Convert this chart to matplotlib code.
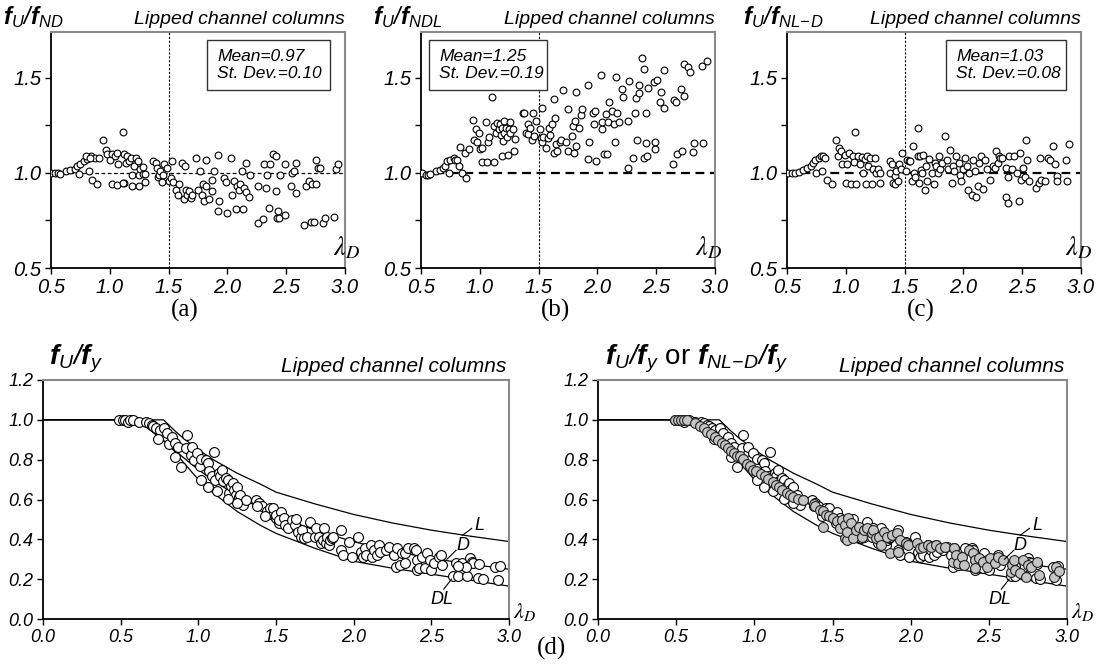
import numpy as np
import matplotlib
matplotlib.use('Agg')
import matplotlib.pyplot as plt
from matplotlib.patches import Rectangle

plt.rcParams['font.family'] = 'Liberation Sans'
plt.rcParams['font.style'] = 'italic'
plt.rcParams['mathtext.fontset'] = 'custom'
plt.rcParams['mathtext.it'] = 'Liberation Sans:italic'
plt.rcParams['mathtext.rm'] = 'Liberation Sans:italic'
plt.rcParams['mathtext.bf'] = 'Liberation Sans:bold:italic'

# (a) f_U / f_ND  vs lambda_D
pts_a = [(0.50,1.00),(0.53,1.00),(0.56,1.00),(0.58,0.995),(0.63,1.01),(0.66,1.015),(0.70,1.02),
         (0.72,1.035),(0.75,1.045),(0.78,1.06),(0.81,1.075),(0.84,1.09),(0.87,1.08),(0.80,1.09),
         (0.83,1.08),(0.74,0.995),(0.82,1.01),(0.85,0.965),(0.89,0.94),(0.91,1.08),(0.94,1.17),
         (0.97,1.12),(0.98,1.10),(1.00,1.07),(1.02,1.10),(1.04,1.09),(1.06,1.105),(1.07,1.045),
         (1.02,0.94),(1.06,0.935),(1.11,1.215),(1.12,1.10),(1.14,1.05),(1.15,1.09),(1.16,1.06),
         (1.18,1.08),(1.12,0.945),(1.19,0.99),(1.19,0.93),(1.21,1.035),(1.22,1.08),(1.24,1.06),
         (1.25,0.93),(1.25,0.99),(1.26,1.02),(1.28,0.995),(1.30,0.995),(1.30,0.95),(1.28,1.03),
         (1.11,0.945),(1.37,1.06),(1.39,1.05),(1.40,1.025),(1.41,0.98),(1.42,0.99),(1.43,1.01),
         (1.44,0.95),(1.45,0.99),(1.46,1.045),(1.49,1.025),(1.50,0.955),(1.52,0.975),(1.53,1.06),
         (1.54,0.95),(1.56,0.91),(1.58,0.885),(1.59,0.94),(1.61,1.05),(1.63,0.86),(1.64,1.035),
         (1.65,0.91),(1.66,0.885),(1.67,0.905),(1.69,0.87),(1.70,0.885),(1.73,1.08),(1.75,0.91),
         (1.77,1.01),(1.78,0.885),(1.79,0.94),(1.80,0.85),(1.82,1.065),(1.82,0.93),(1.84,0.86),
         (1.87,0.905),(1.87,0.965),(1.89,1.01),(1.92,1.095),(1.92,0.80),(1.93,0.85),(1.97,0.975),
         (1.99,0.95),(2.00,0.79),(2.03,1.08),(2.04,0.885),(2.06,0.955),(2.07,0.81),(2.08,0.93),
         (2.10,0.91),(2.11,0.94),(2.12,1.01),(2.13,0.81),(2.14,0.92),(2.16,0.90),(2.16,1.05),
         (2.18,0.875),(2.19,0.99),(2.26,0.93),(2.26,0.735),(2.30,0.76),(2.31,1.045),(2.33,0.92),
         (2.34,0.99),(2.35,0.815),(2.36,1.045),(2.39,1.10),(2.41,1.09),(2.41,0.905),(2.42,0.765),
         (2.44,0.765),(2.43,0.80),(2.45,0.99),(2.49,0.78),(2.49,1.045),(2.54,0.93),(2.55,1.00),
         (2.57,1.01),(2.58,0.895),(2.58,1.05),(2.65,0.725),(2.67,0.93),(2.69,0.955),(2.71,0.74),
         (2.72,0.94),(2.74,0.74),(2.75,0.94),(2.75,1.07),(2.77,1.025),(2.79,1.025),(2.81,0.735),
         (2.83,0.765),(2.91,0.77),(2.92,1.02),(2.94,1.045)]

# (b) f_U / f_NDL
pts_b = [(0.51,1.00),(0.54,0.99),(0.56,0.99),(0.58,0.995),(0.63,1.01),(0.66,1.015),(0.69,1.025),
         (0.70,1.035),(0.72,1.06),(0.75,1.07),(0.74,1.00),(0.78,1.08),(0.79,1.07),(0.81,1.07),
         (0.82,1.035),(0.83,1.135),(0.85,1.00),(0.88,0.975),(0.87,1.105),(0.91,1.125),(0.94,1.28),
         (0.95,1.175),(0.97,1.23),(0.98,1.16),(0.99,1.21),(1.00,1.125),(1.02,1.13),(1.02,1.055),
         (1.06,1.055),(1.05,1.265),(1.07,1.16),(1.08,1.19),(1.10,1.40),(1.12,1.055),(1.12,1.245),
         (1.14,1.21),(1.15,1.26),(1.16,1.23),(1.17,1.255),(1.18,1.20),(1.19,1.235),(1.20,1.165),
         (1.21,1.27),(1.21,1.21),(1.22,1.235),(1.23,1.19),(1.19,1.09),(1.24,1.095),(1.25,1.23),
         (1.26,1.265),(1.26,1.21),(1.28,1.23),(1.29,1.115),(1.30,1.18),(1.37,1.315),(1.38,1.315),
         (1.39,1.21),(1.41,1.255),(1.41,1.205),(1.43,1.235),(1.44,1.175),(1.45,1.315),(1.46,1.195),
         (1.48,1.27),(1.51,1.23),(1.52,1.185),(1.53,1.34),(1.53,1.16),(1.54,1.19),(1.56,1.13),
         (1.58,1.185),(1.59,1.235),(1.60,1.20),(1.61,1.255),(1.63,1.105),(1.63,1.39),(1.64,1.29),
         (1.65,1.15),(1.66,1.115),(1.68,1.16),(1.69,1.175),(1.71,1.435),(1.73,1.16),(1.75,1.335),
         (1.75,1.115),(1.78,1.195),(1.79,1.245),(1.80,1.105),(1.81,1.27),(1.82,1.425),(1.82,1.14),
         (1.84,1.235),(1.86,1.305),(1.87,1.335),(1.92,1.46),(1.92,1.075),(1.93,1.16),(1.96,1.315),
         (1.97,1.255),(1.98,1.325),(1.99,1.06),(2.03,1.515),(2.04,1.23),(2.04,1.265),(2.06,1.10),
         (2.07,1.31),(2.08,1.10),(2.09,1.265),(2.10,1.37),(2.12,1.325),(2.14,1.255),(2.15,1.16),
         (2.16,1.505),(2.17,1.315),(2.18,1.265),(2.21,1.44),(2.22,1.40),(2.26,1.025),(2.26,1.27),
         (2.27,1.48),(2.30,1.08),(2.32,1.315),(2.33,1.395),(2.34,1.17),(2.35,1.42),(2.35,1.46),
         (2.38,1.605),(2.40,1.545),(2.40,1.08),(2.41,1.155),(2.41,1.315),(2.42,1.09),(2.43,1.445),
         (2.48,1.475),(2.49,1.16),(2.49,1.125),(2.51,1.49),(2.53,1.37),(2.54,1.425),(2.57,1.34),
         (2.57,1.54),(2.64,1.045),(2.65,1.385),(2.67,1.37),(2.68,1.10),(2.71,1.44),(2.72,1.115),
         (2.74,1.405),(2.74,1.57),(2.77,1.555),(2.79,1.53),(2.81,1.11),(2.82,1.155),(2.89,1.56),
         (2.90,1.155),(2.93,1.59)]

# (c) f_U / f_NL-D
pts_c = [(0.51,1.00),(0.54,1.00),(0.57,1.00),(0.60,1.005),(0.64,1.015),(0.67,1.025),(0.70,1.035),
         (0.72,1.05),(0.74,1.065),(0.77,1.08),(0.79,1.09),(0.81,1.09),(0.82,1.08),(0.75,1.00),
         (0.80,1.01),(0.84,0.965),(0.88,0.94),(0.92,1.17),(0.93,1.09),(0.94,1.13),(0.96,1.115),
         (0.97,1.045),(0.99,1.095),(1.00,0.945),(1.01,1.045),(1.03,1.105),(1.04,0.94),(1.06,1.09),
         (1.07,1.055),(1.08,1.215),(1.09,0.94),(1.10,1.09),(1.12,1.045),(1.14,1.085),(1.15,1.00),
         (1.16,1.075),(1.17,0.94),(1.18,1.09),(1.19,1.035),(1.21,1.08),(1.22,0.94),(1.23,1.02),
         (1.25,1.08),(1.26,1.00),(1.27,1.02),(1.29,0.945),(1.29,1.00),(1.38,1.06),(1.38,1.00),
         (1.39,1.045),(1.40,0.945),(1.42,0.985),(1.42,0.94),(1.43,1.01),(1.44,0.955),(1.45,1.045),
         (1.47,1.02),(1.48,1.105),(1.51,1.01),(1.52,1.07),(1.54,1.06),(1.55,1.06),(1.56,0.955),
         (1.57,1.14),(1.58,1.00),(1.59,0.98),(1.61,1.235),(1.61,1.09),(1.62,0.945),(1.63,1.09),
         (1.64,1.015),(1.65,1.00),(1.66,1.095),(1.67,0.91),(1.68,1.035),(1.69,0.955),(1.71,1.075),
         (1.73,1.00),(1.75,0.94),(1.76,1.05),(1.77,1.035),(1.78,1.00),(1.79,1.09),(1.80,1.02),
         (1.82,1.05),(1.84,1.195),(1.86,1.07),(1.87,1.02),(1.89,1.12),(1.90,0.945),(1.91,1.035),
         (1.92,1.01),(1.94,1.09),(1.96,1.05),(1.97,0.99),(1.98,0.955),(2.00,1.02),(2.01,1.08),
         (2.03,1.035),(2.04,0.91),(2.05,1.00),(2.07,0.885),(2.08,1.07),(2.10,1.01),(2.11,0.875),
         (2.12,0.93),(2.13,1.05),(2.15,1.09),(2.17,0.915),(2.18,1.07),(2.20,1.02),(2.23,0.965),
         (2.25,1.035),(2.27,1.025),(2.28,1.115),(2.29,1.05),(2.30,1.09),(2.31,1.08),(2.33,1.08),
         (2.36,1.025),(2.36,0.875),(2.38,0.98),(2.38,0.84),(2.39,1.09),(2.41,1.02),(2.43,1.09),
         (2.46,1.00),(2.47,0.85),(2.48,1.105),(2.49,0.965),(2.51,1.025),(2.52,0.98),(2.53,1.175),
         (2.54,1.07),(2.56,0.955),(2.62,0.92),(2.64,0.945),(2.65,1.08),(2.66,0.965),(2.69,0.955),
         (2.72,1.08),(2.74,1.07),(2.76,1.14),(2.78,1.045),(2.80,0.985),(2.80,0.955),(2.87,1.07),
         (2.88,0.955),(2.90,1.15)]

# (d) f_U / f_y (tests)
pts_fy = [(0.49,1.00),(0.515,0.997),(0.53,1.00),(0.55,0.988),(0.56,0.997),(0.58,1.00),(0.62,0.99),
          (0.66,0.987),(0.68,0.983),(0.70,0.975),(0.71,0.967),(0.73,0.958),(0.75,0.95),(0.78,0.958),
          (0.80,0.933),(0.74,0.903),(0.81,0.88),(0.83,0.916),(0.85,0.883),(0.87,0.866),(0.93,0.925),
          (0.85,0.813),(0.89,0.762),(0.92,0.858),(0.95,0.824),(0.96,0.866),(0.97,0.796),(0.99,0.833),
          (1.01,0.766),(1.02,0.804),(1.05,0.80),(1.06,0.783),(1.07,0.741),(1.10,0.836),(1.09,0.716),
          (1.11,0.699),(1.13,0.732),(1.14,0.716),(1.15,0.749),(1.16,0.691),(1.18,0.707),(1.19,0.699),
          (1.20,0.632),(1.21,0.669),(1.22,0.682),(1.23,0.649),(1.24,0.624),(1.25,0.662),(1.26,0.615),
          (1.27,0.624),(1.29,0.573),(1.31,0.598),(1.25,0.582),(1.19,0.602),(1.12,0.645),(1.06,0.665),
          (1.02,0.699),(1.37,0.598),(1.39,0.582),(1.41,0.565),(1.44,0.54),(1.46,0.556),(1.48,0.523),
          (1.50,0.506),(1.52,0.481),(1.38,0.565),(1.43,0.515),(1.48,0.556),(1.50,0.522),(1.53,0.539),
          (1.52,0.497),(1.55,0.505),(1.56,0.472),(1.58,0.455),(1.60,0.497),(1.62,0.472),(1.63,0.50),
          (1.64,0.438),(1.66,0.413),(1.67,0.447),(1.68,0.405),(1.70,0.413),(1.72,0.489),(1.75,0.413),
          (1.76,0.455),(1.78,0.413),(1.79,0.38),(1.80,0.397),(1.81,0.455),(1.82,0.38),(1.83,0.413),
          (1.84,0.371),(1.85,0.397),(1.86,0.405),(1.87,0.413),(1.92,0.447),(1.92,0.346),(1.93,0.321),
          (1.97,0.388),(1.99,0.313),(2.03,0.413),(2.05,0.338),(2.06,0.313),(2.07,0.355),(2.08,0.321),
          (2.11,0.371),(2.12,0.313),(2.13,0.346),(2.15,0.321),(2.16,0.371),(2.17,0.338),(2.21,0.346),
          (2.23,0.363),(2.26,0.321),(2.27,0.263),(2.28,0.355),(2.30,0.271),(2.31,0.33),(2.33,0.33),
          (2.33,0.279),(2.35,0.355),(2.39,0.355),(2.40,0.346),(2.41,0.296),(2.41,0.246),(2.42,0.254),
          (2.44,0.313),(2.46,0.254),(2.47,0.33),(2.49,0.296),(2.50,0.246),(2.52,0.279),(2.55,0.313),
          (2.56,0.321),(2.57,0.271),(2.64,0.216),(2.66,0.279),(2.67,0.216),(2.69,0.271),(2.70,0.279),
          (2.73,0.216),(2.75,0.304),(2.76,0.288),(2.77,0.279),(2.80,0.204),(2.81,0.275),(2.83,0.20),
          (2.91,0.26),(2.93,0.195),(2.94,0.265),(2.72,0.262),(2.67,0.265)]

# (d) f_NL-D / f_y (predictions, grey)
pts_nld = [(0.49,1.00),(0.51,1.00),(0.53,1.00),(0.55,0.997),(0.57,1.00),(0.62,0.983),(0.65,0.97),
           (0.68,0.958),(0.70,0.941),(0.72,0.928),(0.75,0.916),(0.77,0.90),(0.79,0.886),(0.81,0.874),
           (0.83,0.858),(0.85,0.846),(0.87,0.832),(0.89,0.816),(0.91,0.816),(0.93,0.804),(0.95,0.777),
           (0.97,0.766),(0.99,0.749),(1.01,0.744),(1.04,0.727),(1.07,0.716),(1.09,0.704),(1.12,0.687),
           (1.14,0.674),(1.16,0.661),(1.18,0.649),(1.21,0.632),(1.23,0.624),(1.25,0.615),(1.28,0.603),
           (1.31,0.598),(1.38,0.577),(1.39,0.565),(1.42,0.548),(1.44,0.543),(1.44,0.464),(1.46,0.523),
           (1.48,0.515),(1.50,0.506),(1.53,0.49),(1.55,0.456),(1.58,0.406),(1.59,0.397),(1.56,0.497),
           (1.58,0.472),(1.59,0.438),(1.60,0.505),(1.62,0.48),(1.63,0.405),(1.65,0.447),(1.67,0.464),
           (1.69,0.413),(1.70,0.447),(1.72,0.455),(1.75,0.43),(1.76,0.447),(1.78,0.405),(1.80,0.413),
           (1.81,0.371),(1.83,0.438),(1.85,0.413),(1.87,0.333),(1.88,0.422),(1.91,0.43),(1.92,0.338),
           (1.93,0.397),(1.97,0.38),(1.98,0.371),(2.04,0.38),(2.06,0.355),(2.08,0.363),(2.11,0.371),
           (2.13,0.363),(2.16,0.371),(2.19,0.355),(2.22,0.36),(2.27,0.288),(2.28,0.355),(2.29,0.321),
           (2.30,0.279),(2.33,0.313),(2.34,0.271),(2.37,0.346),(2.40,0.33),(2.41,0.296),(2.41,0.254),
           (2.44,0.304),(2.46,0.288),(2.49,0.263),(2.51,0.304),(2.54,0.279),(2.56,0.313),(2.59,0.296),
           (2.64,0.238),(2.65,0.271),(2.66,0.296),(2.67,0.246),(2.70,0.229),(2.72,0.296),(2.74,0.213),
           (2.75,0.271),(2.77,0.263),(2.81,0.288),(2.82,0.221),(2.92,0.21),(2.93,0.26),(2.95,0.24)]

# design curves
curve_lam = [0, 0.561, 0.65, 0.776, 0.85, 0.9, 1.0, 1.1, 1.25, 1.4, 1.5, 1.75, 2.0, 2.25, 2.5, 2.75, 3.0]
curve_L = [1, 1, 1, 1, 0.944, 0.910, 0.850, 0.798, 0.732, 0.677, 0.637, 0.578, 0.525, 0.482, 0.446, 0.416, 0.389]
curve_D = [1, 1, 0.974, 0.896, 0.846, 0.813, 0.750, 0.693, 0.619, 0.556, 0.520, 0.446, 0.388, 0.342, 0.305, 0.275, 0.250]
curve_DL = [1, 1, 0.974, 0.896, 0.84, 0.79, 0.70, 0.63, 0.54, 0.47, 0.43, 0.355, 0.29, 0.255, 0.225, 0.195, 0.165]

top_ylabels = [r'$\mathbf{f}_{U}/\mathbf{f}_{ND}$', r'$\mathbf{f}_{U}/\mathbf{f}_{NDL}$',
               r'$\mathbf{f}_{U}/\mathbf{f}_{NL\!-\!D}$']
top_stats = [('0.97', '0.10'), ('1.25', '0.19'), ('1.03', '0.08')]
panel_tags = ['(a)', '(b)', '(c)']

fig = plt.figure(figsize=(11.04, 6.66), dpi=100)

def style_frame(ax):
    ax.spines['left'].set_color('black')
    ax.spines['bottom'].set_color('black')
    ax.spines['left'].set_linewidth(1.3)
    ax.spines['bottom'].set_linewidth(1.3)
    ax.spines['top'].set_color('#8a8a8a')
    ax.spines['right'].set_color('#8a8a8a')
    ax.spines['top'].set_linewidth(1.5)
    ax.spines['right'].set_linewidth(1.5)

# ---- top panels ----
top_left = [51, 421, 787]
box_x = [(0.53, 0.95), (0.027, 0.43), (0.54, 0.95)]
lam_x = [0.96, 0.932, 0.946]
lab_x = [-0.163, -0.163, -0.15]
for i, pts in enumerate([pts_a, pts_b, pts_c]):
    ax = fig.add_axes([top_left[i] / 1104, 1 - 268 / 666, 294 / 1104, 236 / 666])
    lam, val = np.array(pts).T
    if i == 0:
        ax.axhline(1.0, color='black', lw=0.9, dashes=(3, 2), zorder=1)
    else:
        ax.axhline(1.0, color='black', lw=1.6, dashes=(4, 2.5), zorder=1)
    ax.axvline(1.5, color='black', lw=0.8, dashes=(2, 1.5), zorder=1)
    ax.scatter(lam, val, s=24, facecolor='white', edgecolor='black', linewidth=0.8, zorder=3)
    ax.set_xlim(0.5, 3.0)
    ax.set_ylim(0.5, 1.74)
    ax.set_xticks([0.5, 1.0, 1.5, 2.0, 2.5, 3.0])
    ax.set_xticklabels(['0.5', '1.0', '1.5', '2.0', '2.5', '3.0'], fontstyle='italic')
    ax.set_yticks([0.5, 0.75, 1.0, 1.25, 1.5])
    ax.set_yticklabels(['0.5', '', '1.0', '', '1.5'], fontstyle='italic')
    ax.tick_params(labelsize=14.5, length=4, width=1, direction='out', pad=3)
    style_frame(ax)

    x0, x1 = box_x[i]
    ax.add_patch(Rectangle((x0, 0.753), x1 - x0, 0.213, transform=ax.transAxes,
                           facecolor='white', edgecolor='#333333', lw=1.0, zorder=4))
    ax.text(x0 + 0.035, 0.86, 'Mean=' + top_stats[i][0] + '\nSt. Dev.=' + top_stats[i][1],
            transform=ax.transAxes, fontsize=12.5, style='italic', va='center', ha='left',
            linespacing=1.15, zorder=5)

    ax.text(1.0, 1.015, 'Lipped channel columns', transform=ax.transAxes, fontsize=14,
            style='italic', ha='right', va='bottom')
    ax.text(lab_x[i], 1.01, top_ylabels[i], transform=ax.transAxes, fontsize=17,
            ha='left', va='bottom')
    ax.text(lam_x[i], 0.085, r'$\lambda_D$', transform=ax.transAxes, fontsize=19,
            math_fontfamily='stix', ha='left', va='center')
    fig.text((top_left[i] + 134) / 1104, 1 - 310 / 666, panel_tags[i], fontsize=18,
             family='Liberation Serif', style='normal', ha='center', va='center')

# ---- bottom panels ----
bot_left = [43, 598]
bot_width = [466, 469]
for j in range(2):
    ax = fig.add_axes([bot_left[j] / 1104, 1 - 619 / 666, bot_width[j] / 1104, 239 / 666])
    ax.plot(curve_lam, curve_L, color='black', lw=0.9, zorder=2)
    ax.plot(curve_lam, curve_D, color='black', lw=0.9, zorder=2)
    ax.plot(curve_lam, curve_DL, color='black', lw=0.9, zorder=2)
    lam, val = np.array(pts_fy).T
    ax.scatter(lam, val, s=50, facecolor='white', edgecolor='black', linewidth=0.8, zorder=3)
    if j == 1:
        lam2, val2 = np.array(pts_nld).T
        ax.scatter(lam2, val2, s=50, facecolor='#c4c4c4', edgecolor='#222222', linewidth=0.8, zorder=4)

    # curve tags
    ax.plot([2.70, 2.76], [0.42, 0.455], color='black', lw=0.8, zorder=5)
    ax.text(2.78, 0.47, 'L', fontsize=13, style='italic', ha='left', va='center')
    ax.plot([2.60, 2.66], [0.30, 0.345], color='black', lw=0.8, zorder=5)
    ax.text(2.66, 0.37, 'D', fontsize=13, style='italic', ha='left', va='center')
    ax.plot([2.63, 2.58], [0.20, 0.15], color='black', lw=0.8, zorder=5)
    ax.text(2.57, 0.10, 'DL', fontsize=13, style='italic', ha='center', va='center')

    ax.set_xlim(0, 3.0)
    ax.set_ylim(0, 1.2)
    ax.set_xticks([0, 0.5, 1.0, 1.5, 2.0, 2.5, 3.0])
    ax.set_xticklabels(['0.0', '0.5', '1.0', '1.5', '2.0', '2.5', '3.0'], fontstyle='italic')
    ax.set_yticks([0, 0.2, 0.4, 0.6, 0.8, 1.0, 1.2])
    ax.set_yticklabels(['0.0', '0.2', '0.4', '0.6', '0.8', '1.0', '1.2'], fontstyle='italic')
    ax.tick_params(labelsize=13, length=4, width=1, direction='out', pad=3)
    style_frame(ax)

    ax.text(0.995, 1.015, 'Lipped channel columns', transform=ax.transAxes, fontsize=15,
            style='italic', ha='right', va='bottom')
    ax.text(1.008, 0.03, r'$\lambda_D$', transform=ax.transAxes, fontsize=16,
            math_fontfamily='stix', ha='left', va='center')

    if j == 0:
        ax.text(0.012, 1.02, r'$\mathbf{f}_{U}/\mathbf{f}_{y}$', transform=ax.transAxes,
                fontsize=20, ha='left', va='bottom')
    else:
        ax.text(0.015, 1.02, r'$\mathbf{f}_{U}/\mathbf{f}_{y}$ or $\mathbf{f}_{NL\!-\!D}/\mathbf{f}_{y}$',
                transform=ax.transAxes, fontsize=20, style='normal', ha='left', va='bottom')

fig.text(552 / 1104, 1 - 648 / 666, '(d)', fontsize=18, family='Liberation Serif',
         style='normal', ha='center', va='center')

plt.savefig('out.png', dpi=100)
